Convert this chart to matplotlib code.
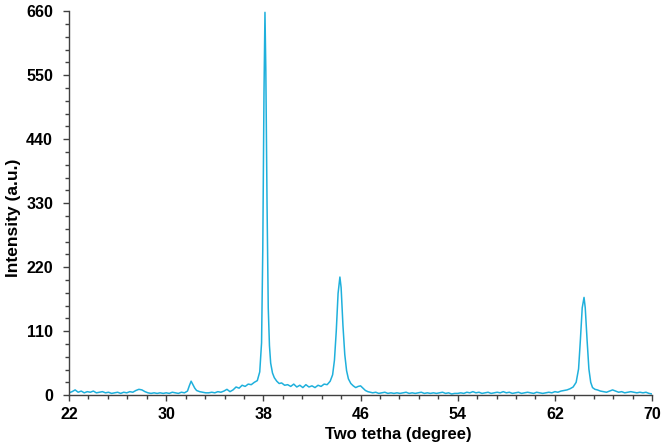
import matplotlib
matplotlib.use("Agg")
import matplotlib.pyplot as plt

# ── XRD pattern, values ─────────────────────────────────────────────────────
two_theta = [
    22.0, 22.25, 22.5, 22.75, 23.0, 23.25, 23.5, 23.75, 24.0, 24.25, 24.5,
    24.75, 25.0, 25.25, 25.5, 25.75, 26.0, 26.25, 26.5, 26.75, 27.0, 27.25,
    27.5, 27.75, 28.0, 28.25, 28.5, 28.75, 29.0, 29.25, 29.5, 29.75, 30.0,
    30.25, 30.5, 30.75, 31.0, 31.25, 31.5, 31.75, 31.9, 32.05, 32.2, 32.35,
    32.5, 32.75, 33.0, 33.25, 33.5, 33.75, 34.0, 34.25, 34.5, 34.75, 35.0,
    35.25, 35.5, 35.75, 36.0, 36.25, 36.5, 36.75, 37.0, 37.25, 37.5, 37.7,
    37.85, 37.95, 38.05, 38.13, 38.2, 38.3, 38.4, 38.5, 38.6, 38.75, 38.9,
    39.1, 39.3, 39.5, 39.75, 40.0, 40.25, 40.5, 40.75, 41.0, 41.25, 41.5,
    41.75, 42.0, 42.25, 42.5, 42.75, 43.0, 43.25, 43.5, 43.7, 43.85, 44.0,
    44.15, 44.3, 44.4, 44.55, 44.7, 44.85, 45.0, 45.2, 45.4, 45.6, 45.8,
    46.0, 46.2, 46.4, 46.6, 46.8, 47.0, 47.25, 47.5, 47.75, 48.0, 48.25,
    48.5, 48.75, 49.0, 49.25, 49.5, 49.75, 50.0, 50.25, 50.5, 50.75, 51.0,
    51.25, 51.5, 51.75, 52.0, 52.25, 52.5, 52.75, 53.0, 53.25, 53.5, 53.75,
    54.0, 54.25, 54.5, 54.75, 55.0, 55.25, 55.5, 55.75, 56.0, 56.25, 56.5,
    56.75, 57.0, 57.25, 57.5, 57.75, 58.0, 58.25, 58.5, 58.75, 59.0, 59.25,
    59.5, 59.75, 60.0, 60.25, 60.5, 60.75, 61.0, 61.25, 61.5, 61.75, 62.0,
    62.25, 62.5, 62.75, 63.0, 63.25, 63.5, 63.75, 63.95, 64.1, 64.25, 64.4,
    64.5, 64.65, 64.8, 64.95, 65.1, 65.3, 65.5, 65.75, 66.0, 66.25, 66.5,
    66.75, 67.0, 67.25, 67.5, 67.75, 68.0, 68.25, 68.5, 68.75, 69.0, 69.25,
    69.5, 69.75, 70.0,
]
intensity = [
    4, 6, 9, 5, 7, 4, 6, 5, 7, 4, 5,
    6, 4, 5, 3, 4, 5, 3, 5, 4, 6, 5,
    8, 10, 9, 6, 4, 3, 4, 3, 4, 3, 4,
    3, 5, 4, 3, 5, 4, 7, 16, 24, 18, 12,
    8, 6, 5, 4, 4, 5, 4, 6, 5, 7, 10,
    6, 9, 14, 12, 17, 15, 19, 18, 22, 25, 40,
    90, 250, 520, 658, 560, 330, 150, 85, 55, 38, 30,
    24, 20, 21, 17, 18, 15, 19, 14, 17, 13, 18,
    14, 16, 13, 17, 15, 19, 18, 24, 35, 60, 110,
    175, 203, 185, 120, 70, 42, 28, 20, 16, 13, 15,
    16, 12, 8, 6, 5, 4, 5, 3, 4, 5, 3,
    4, 3, 4, 3, 4, 5, 3, 4, 3, 4, 5,
    3, 4, 3, 4, 3, 4, 5, 3, 4, 2, 3,
    3, 4, 3, 5, 4, 6, 4, 5, 3, 4, 5,
    3, 4, 5, 4, 6, 4, 5, 3, 4, 5, 3,
    4, 5, 4, 3, 5, 4, 3, 4, 5, 4, 6,
    5, 7, 8, 9, 11, 14, 22, 45, 95, 150, 168,
    150, 95, 45, 22, 13, 10, 9, 7, 6, 5, 7,
    9, 7, 5, 6, 4, 5, 6, 5, 4, 5, 4,
    5, 3, 2,
]

x_major = [22, 30, 38, 46, 54, 62, 70]
y_major = [0, 110, 220, 330, 440, 550, 660]

LINE_COLOR = "#1FB0DC"
AXIS_COLOR = "#404040"

plt.rcParams["font.family"] = ["Liberation Sans", "DejaVu Sans"]

fig = plt.figure(figsize=(6.64, 4.47), dpi=100)
ax = fig.add_axes([0.104, 0.116, 0.878, 0.859])

ax.plot(two_theta, intensity, color=LINE_COLOR, linewidth=1.1)

ax.set_xlim(22, 70)
ax.set_ylim(0, 660)
ax.set_xticks(x_major)
ax.set_xticks([22 + 1.6 * k for k in range(31)], minor=True)
ax.set_yticks(y_major)
ax.set_yticks(list(range(0, 661, 22)), minor=True)

for side in ("top", "right"):
    ax.spines[side].set_visible(False)
for side in ("left", "bottom"):
    ax.spines[side].set_color(AXIS_COLOR)
    ax.spines[side].set_linewidth(1.0)

ax.tick_params(which="both", direction="out", color=AXIS_COLOR, width=1.0)
ax.tick_params(which="major", length=4.3, labelsize=11.5)
ax.tick_params(axis="x", which="major", pad=4.5)
ax.tick_params(axis="y", which="major", pad=7.2)
ax.tick_params(which="minor", length=2.6)
for lbl in ax.get_xticklabels() + ax.get_yticklabels():
    lbl.set_fontweight("bold")

ax.set_xlabel("Two tetha (degree)", fontsize=12, fontweight="bold")
ax.set_ylabel("Intensity (a.u.)", fontsize=12.5, fontweight="bold")
ax.xaxis.set_label_coords(0.564, -0.083)
ax.yaxis.set_label_coords(-0.082, 0.461)

fig.savefig("out.png", dpi=100)
